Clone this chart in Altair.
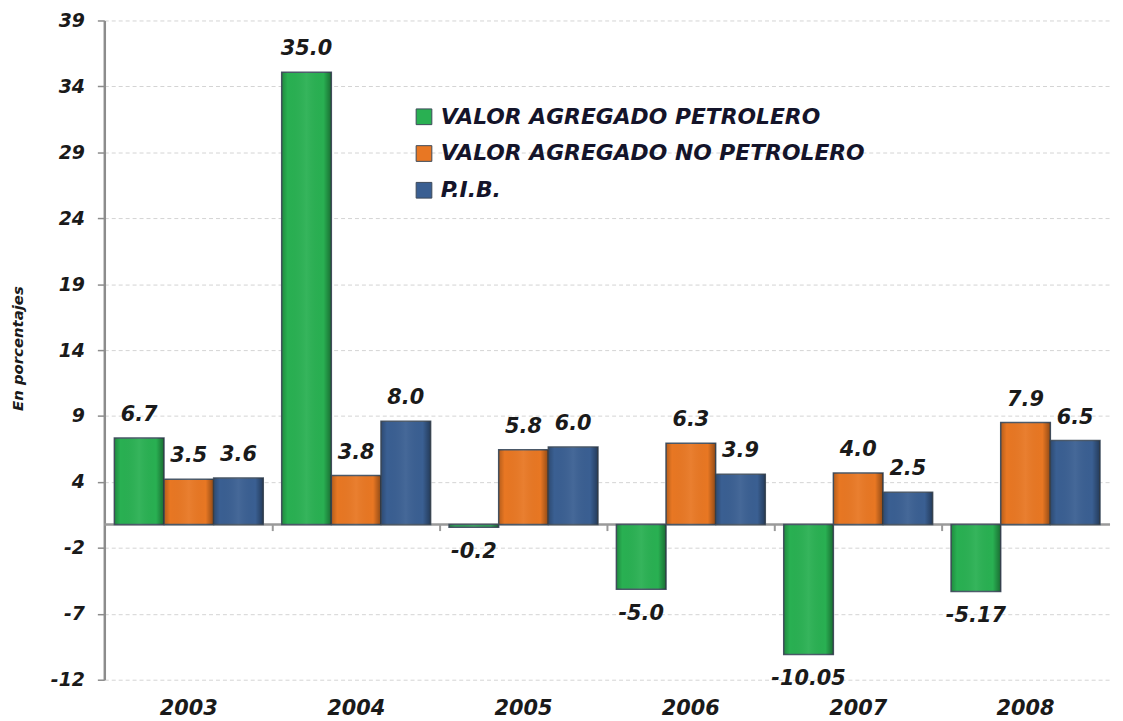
import altair as alt
import pandas as pd

years = ["2003", "2004", "2005", "2006", "2007", "2008"]
series_names = ["VALOR AGREGADO PETROLERO", "VALOR AGREGADO NO PETROLERO", "P.I.B."]
series_colors = ["#29b052", "#e87723", "#3a5f92"]

petrolero = [6.7, 35.0, -0.2, -5.0, -10.05, -5.17]
no_petrolero = [3.5, 3.8, 5.8, 6.3, 4.0, 7.9]
pib = [3.6, 8.0, 6.0, 3.9, 2.5, 6.5]

petrolero_labels = ["6.7", "35.0", "-0.2", "-5.0", "-10.05", "-5.17"]
no_petrolero_labels = ["3.5", "3.8", "5.8", "6.3", "4.0", "7.9"]
pib_labels = ["3.6", "8.0", "6.0", "3.9", "2.5", "6.5"]

y_tick_labels = ["-12", "-7", "-2", "4", "9", "14", "19", "24", "29", "34", "39"]
y_min, y_max = -12, 39
y_step = (y_max - y_min) / (len(y_tick_labels) - 1)
y_tick_values = [round(y_min + y_step * i, 3) for i in range(len(y_tick_labels))]

rows = []
for name, vals, labs in zip(series_names, [petrolero, no_petrolero, pib],
                            [petrolero_labels, no_petrolero_labels, pib_labels]):
    for yr, v, lb in zip(years, vals, labs):
        rows.append({"year": yr, "series": name, "value": v, "label": lb})
df = pd.DataFrame(rows)

FONT = "DejaVu Sans"

label_expr = "[" + ",".join(f"'{t}'" for t in y_tick_labels) + f"][round((datum.value - ({y_min})) / {y_step})]"

y_scale = alt.Scale(domain=[y_min, y_max], nice=False, zero=False)
x_scale = alt.Scale(paddingInner=0.11, paddingOuter=0.06)
x_axis = alt.Axis(title=None, domain=False, ticks=False, labelAngle=0,
                  labelAlign="center", labelBaseline="top", bandPosition=0.5,
                  labelFont=FONT, labelFontSize=21, labelFontStyle="italic",
                  labelFontWeight="bold", labelColor="#1a1a1a", labelPadding=18)

x_enc = alt.X("year:N", sort=years, scale=x_scale, axis=x_axis)
xoff_enc = alt.XOffset("series:N", sort=series_names,
                       scale=alt.Scale(domain=series_names, paddingInner=0, paddingOuter=0))
y_enc = alt.Y(
    "value:Q",
    scale=y_scale,
    axis=alt.Axis(values=y_tick_values, labelExpr=label_expr,
                  title="En porcentajes", titleFont=FONT, titleFontSize=15,
                  titleFontStyle="italic", titleFontWeight="bold", titleColor="#1a1a1a",
                  titleX=-87, titleY=330, titleAngle=270, titleAlign="center",
                  titleBaseline="middle",
                  labelFont=FONT, labelFontSize=19, labelFontStyle="italic",
                  labelFontWeight="bold", labelColor="#1a1a1a", labelPadding=13,
                  grid=True, gridDash=[4, 3], gridColor="#d4d4d4", gridWidth=1,
                  domainColor="#8c8c8c", domainWidth=2.5,
                  tickColor="#8c8c8c", tickSize=7, tickWidth=1.5),
)

base = alt.Chart(df)

bars = base.mark_bar(stroke="#4a5868", strokeWidth=1.5).encode(
    x=x_enc,
    xOffset=xoff_enc,
    y=y_enc,
    color=alt.Color(
        "series:N",
        sort=series_names,
        scale=alt.Scale(domain=series_names, range=series_colors),
        legend=alt.Legend(title=None, orient="none", legendX=311, legendY=86,
                          symbolType="square", symbolSize=250, symbolStrokeColor="#3d4a5a",
                          symbolStrokeWidth=1, labelFont=FONT, labelFontSize=22,
                          labelFontStyle="italic", labelFontWeight="bold",
                          labelColor="#14142a", rowPadding=15, labelOffset=6,
                          labelLimit=700),
    ),
)

# bevel shading over the bars: darker side edges, transparent centre
shade = base.mark_bar(
    color=alt.Gradient(
        gradient="linear", x1=0, x2=1, y1=0, y2=0,
        stops=[
            alt.GradientStop(color="rgba(0,0,0,0.22)", offset=0),
            alt.GradientStop(color="rgba(0,0,0,0)", offset=0.12),
            alt.GradientStop(color="rgba(255,255,255,0.06)", offset=0.5),
            alt.GradientStop(color="rgba(0,0,0,0)", offset=0.84),
            alt.GradientStop(color="rgba(0,0,0,0.38)", offset=1),
        ],
    )
).encode(x=x_enc, xOffset=xoff_enc, y=y_enc)

zero_rule = alt.Chart(pd.DataFrame({"z": [0]})).mark_rule(
    color="#9a9a9a", strokeWidth=2.5
).encode(y=alt.datum(0))

# small tick marks on the zero line between the year groups
sep_ticks = alt.Chart(pd.DataFrame({"year": years[1:]})).mark_rule(
    color="#9a9a9a", strokeWidth=2, xOffset=-84
).encode(
    x=x_enc,
    y=alt.datum(0), y2=alt.datum(-0.5),
)

text_common = dict(font=FONT, fontSize=21, fontStyle="italic", fontWeight="bold",
                   color="#1a1a1a", baseline="middle", align="center")

pos_text = base.transform_filter("datum.value >= 0").mark_text(dy=-23, **text_common).encode(
    x=x_enc, xOffset=xoff_enc, y=y_enc, text="label:N")
neg_text = base.transform_filter("datum.value < 0").mark_text(dy=25, **text_common).encode(
    x=x_enc, xOffset=xoff_enc, y=y_enc, text="label:N")

chart = alt.layer(zero_rule, sep_ticks, bars, shade, pos_text, neg_text).properties(
    width=1013, height=664,
    background="white",
    autosize=alt.AutoSizeParams(type="none"),
    padding={"left": 97, "top": 10, "right": 5, "bottom": 38},
).configure_view(stroke=None)

chart.save("out.html", embed_options={"renderer": "svg", "actions": False})
